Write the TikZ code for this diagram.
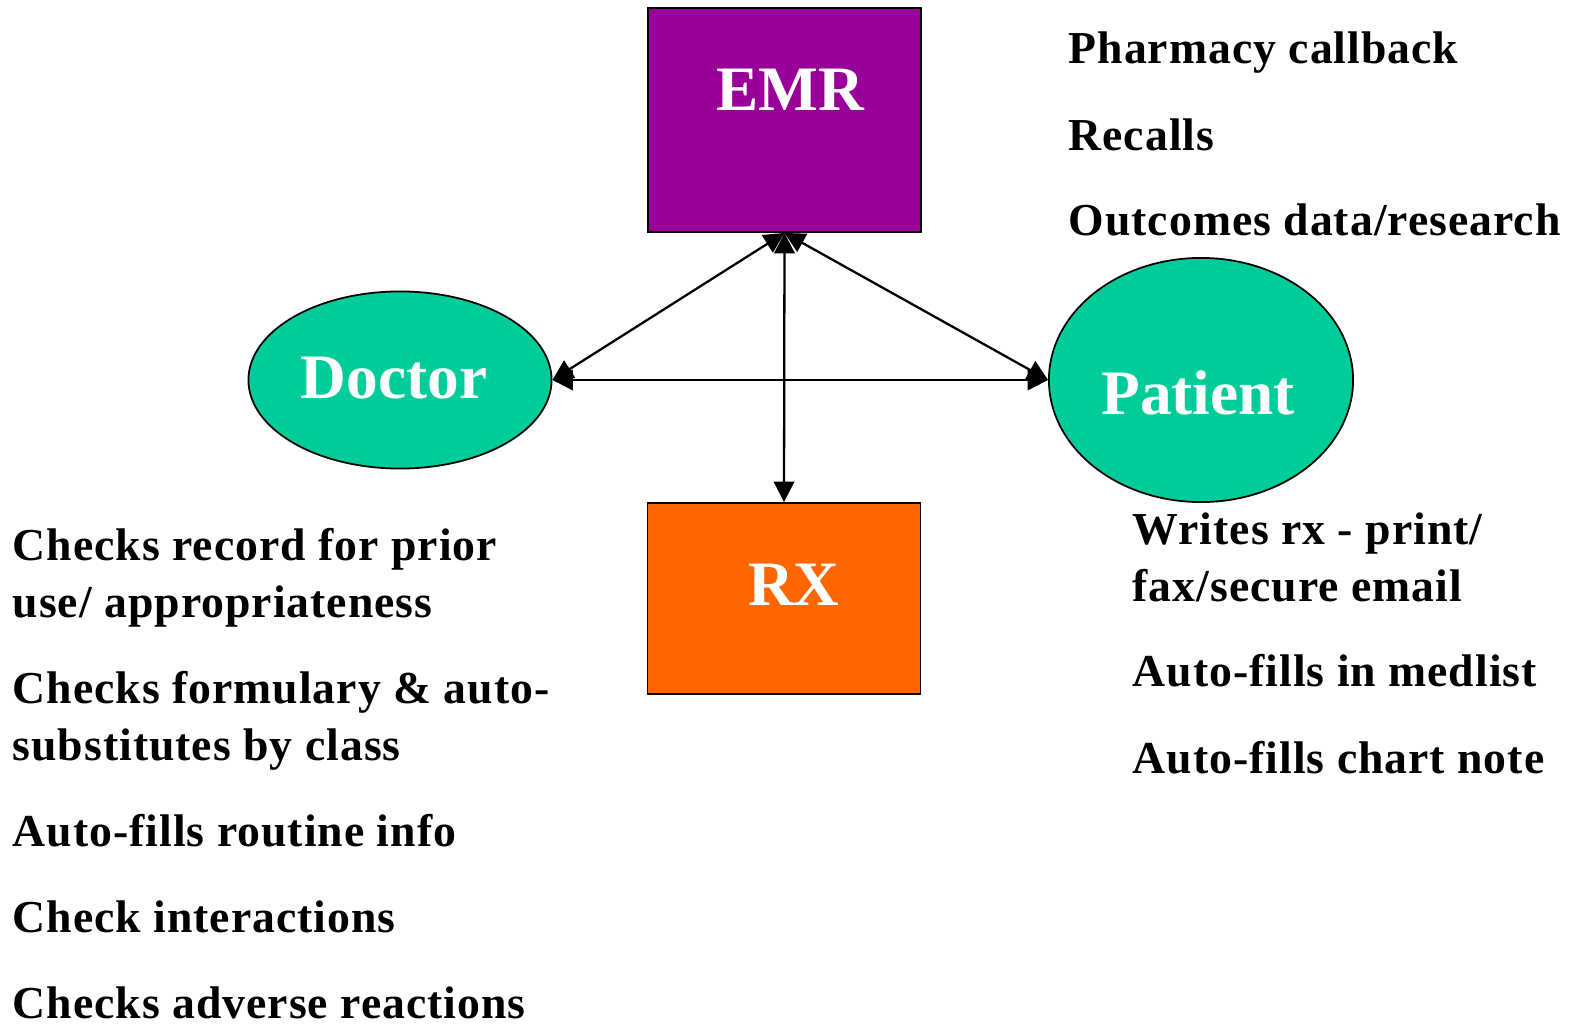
\documentclass[tikz,border=0pt]{standalone}
\usepackage{fontspec}
\setmainfont{Liberation Serif}
\newfontfamily\notefont[LetterSpace=2.2]{Liberation Serif}
\usetikzlibrary{arrows.meta,positioning,shapes.geometric}
\definecolor{emrpurple}{HTML}{990099}
\definecolor{rxorange}{HTML}{FF6600}
\definecolor{persongreen}{HTML}{00CC99}
\tikzset{
box/.style={rectangle,draw=black,line width=0.5pt,minimum width=2.73cm,inner sep=0pt},
person/.style={ellipse,draw=black,line width=0.5pt,fill=persongreen,inner sep=0pt},
biglabel/.style={text=white,font=\fontsize{18}{20}\selectfont\bfseries,inner sep=0pt},
note/.style={anchor=base west,align=left,inner sep=0pt,font=\notefont\fontsize{13}{16.2}\selectfont\bfseries},
arr/.style={<->,>={Triangle[length=5.8pt,width=5.8pt]},line width=0.65pt},
}
\begin{document}
\begin{tikzpicture}[x=0.01cm,y=-0.01cm]
    \useasboundingbox (0,0) rectangle (1572,1024);

    \node[box, fill=emrpurple, minimum height=2.24cm] (emr) at (784.5,120) {};
    \node[box, fill=rxorange, minimum height=1.91cm] (rx) at (784,598.5) {};
    \node[person, minimum width=3.03cm, minimum height=1.77cm] (doctor) at (400,380) {};
    \node[person, minimum width=3.04cm, minimum height=2.44cm] (patient) at (1201,380) {};

    \node[biglabel] (emrtext) at (790,90) {EMR};
    \node[biglabel] (rxtext) at (794,585) {RX};
    \node[biglabel] (doctortext) at (394,378) {Doctor};
    \node[biglabel] (patienttext) at (1198,393) {Patient};

    \draw[arr] (emr.south) -- (doctor.east);
    \draw[arr] (emr.south) -- (patient.west);
    \draw[arr] (emr.south) -- (rx.north);
    \draw[arr] (doctor.east) -- (patient.west);

    % EMR notes
    \node[note] (callback) at (1068,64) {Pharmacy callback};
    \node[note] (recalls) at (1068,150) {Recalls};
    \node[note] (outcomes) at (1068,235) {Outcomes data/research};

    % doctor notes (base = last line)
    \node[note] (prior) at (12,617) {Checks record for prior\\use/ appropriateness};
    \node[note] (formulary) at (12,760) {Checks formulary \& auto-\\substitutes by class};
    \node[note] (routine) at (12,846) {Auto-fills routine info};
    \node[note] (interactions) at (12,932) {Check interactions};
    \node[note] (adverse) at (12,1018) {Checks adverse reactions};

    % patient notes
    \node[note] (writes) at (1132,601) {Writes rx - print/\\fax/secure email};
    \node[note] (medlist) at (1132,686) {Auto-fills in medlist};
    \node[note] (chartnote) at (1132,773) {Auto-fills chart note};
\end{tikzpicture}
\end{document}
